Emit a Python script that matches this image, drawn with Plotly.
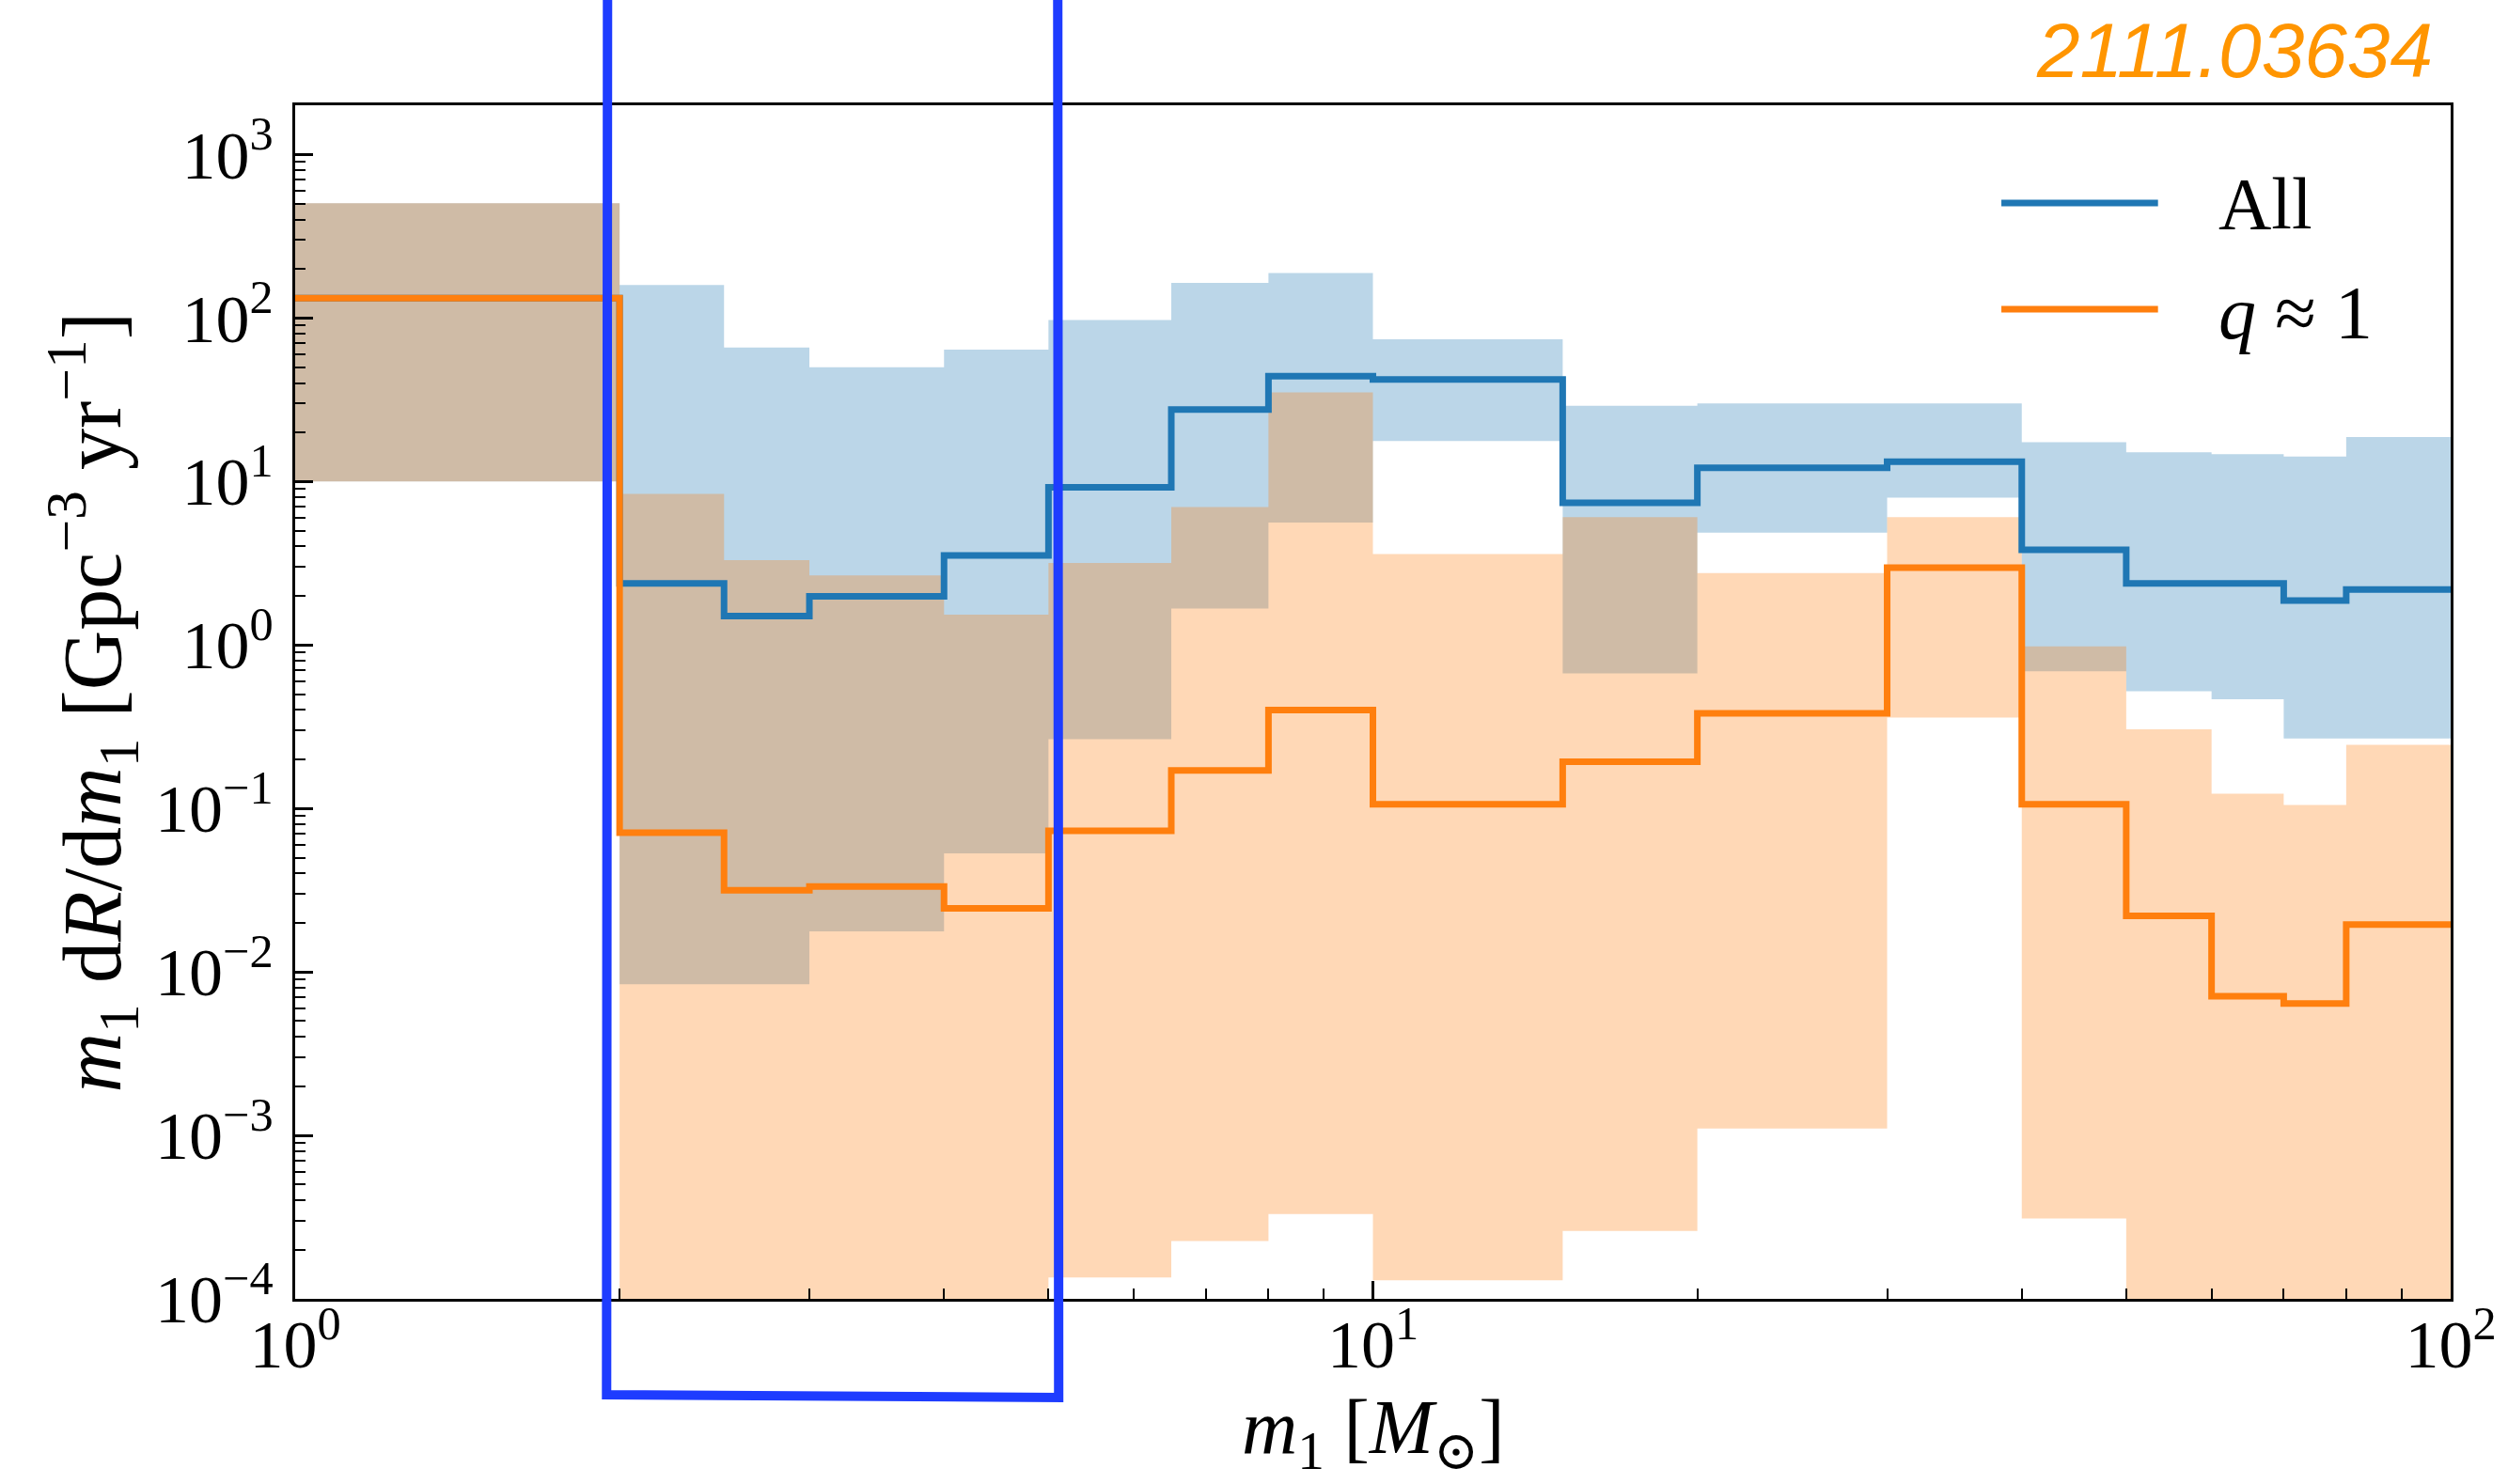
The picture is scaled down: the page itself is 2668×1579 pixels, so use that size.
import numpy as np
import plotly.graph_objects as go

# Primary-mass bin edges [M_sun]
edges = [1, 2, 2.5, 3, 4, 5, 6.5, 8, 10, 15, 20, 30, 40, 50, 60, 70, 80, 100]

# "All" population: median and 90% band per bin [Gpc^-3 yr^-1]
all_med = [132, 2.38, 1.50, 1.98, 3.53, 9.2, 27.5, 44, 42, 7.4, 12.1, 13.2, 3.82, 2.38, 2.38, 1.87, 2.18]
all_hi = [503, 159, 66, 50, 64, 97, 164, 188, 74, 29, 30, 30, 17.4, 15.1, 14.7, 14.2, 18.7]
all_lo = [10, 0.0084, 0.0084, 0.0177, 0.053, 0.265, 1.67, 5.6, 17.7, 0.67, 4.86, 7.96, 0.69, 0.52, 0.465, 0.268, 0.268]

# Equal-mass (q ~ 1) population
eq_med = [132, 0.071, 0.0316, 0.0333, 0.0245, 0.073, 0.171, 0.40, 0.106, 0.193, 0.381, 2.97, 0.106, 0.022, 0.0071, 0.0064, 0.0195]
eq_hi = [503, 8.4, 3.3, 2.66, 1.53, 3.17, 6.98, 35, 3.6, 6.05, 2.75, 6.05, 0.98, 0.305, 0.123, 0.105, 0.245]
eq_lo = [10, 1e-4, 1e-4, 1e-4, 1e-4, 1.35e-4, 2.26e-4, 3.3e-4, 1.3e-4, 2.6e-4, 1.1e-3, 0.36, 3.1e-4, 1e-4, 1e-4, 1e-4, 1e-4]

x_ticks = [1, 10, 100]
x_ticktext = ["10<sup>0</sup>", "10<sup>1</sup>", "10<sup>2</sup>"]
y_ticks = [1e-4, 1e-3, 1e-2, 1e-1, 1, 10, 100, 1000]
y_ticktext = ["10<sup>\u22124</sup>", "10<sup>\u22123</sup>", "10<sup>\u22122</sup>", "10<sup>\u22121</sup>",
              "10<sup>0</sup>", "10<sup>1</sup>", "10<sup>2</sup>", "10<sup>3</sup>"]

BLUE = "#1f77b4"
ORANGE = "#ff7f0e"
BLUE_FILL = "rgba(31,119,180,0.3)"
ORANGE_FILL = "rgba(255,127,14,0.3)"
SERIF = "Liberation Serif, DejaVu Serif, serif"
LINE_W = 7


def step_xy(vals):
    """Turn per-bin values into a post-step outline across the bin edges."""
    xs = np.repeat(np.asarray(edges, float), 2)[1:-1]
    ys = np.repeat(np.asarray(vals, float), 2)
    return xs, ys


fig = go.Figure()


def add_band(lo, hi, color):
    xl, yl = step_xy(lo)
    xh, yh = step_xy(hi)
    fig.add_trace(go.Scatter(x=xl, y=yl, mode="lines", line=dict(width=0),
                             hoverinfo="skip", showlegend=False))
    fig.add_trace(go.Scatter(x=xh, y=yh, mode="lines", line=dict(width=0),
                             fill="tonexty", fillcolor=color,
                             hoverinfo="skip", showlegend=False))


add_band(all_lo, all_hi, BLUE_FILL)
add_band(eq_lo, eq_hi, ORANGE_FILL)

for med, color, name in [(all_med, BLUE, "All"), (eq_med, ORANGE, "q ≈ 1")]:
    xm, ym = step_xy(med)
    fig.add_trace(go.Scatter(x=xm, y=ym, mode="lines", name=name,
                             line=dict(color=color, width=LINE_W), showlegend=False))

W, H = 2668, 1579
L, R, T, B = 314, 56, 112, 197
pw, ph = W - L - R, H - T - B


def px(xpix):
    return (xpix - L) / pw


def py(ypix):
    return (H - B - ypix) / ph


axis_common = dict(
    showline=True, linecolor="black", linewidth=3, mirror=True,
    ticks="inside", ticklen=19, tickwidth=2.5, tickcolor="black",
    showgrid=False, zeroline=False,
    tickfont=dict(family=SERIF, size=72, color="black"),
    minor=dict(ticks="inside", ticklen=11, tickwidth=2, tickcolor="black",
               dtick="D1", showgrid=False),
)

fig.update_xaxes(type="log", range=[0, 2], tickmode="array", tickvals=x_ticks,
                 ticktext=x_ticktext, ticklabelstandoff=-16, **axis_common)
fig.update_yaxes(type="log", range=[-4, np.log10(2000)], tickmode="array",
                 tickvals=y_ticks, ticktext=y_ticktext, ticklabelstandoff=6,
                 **axis_common)

common_anno = dict(xref="paper", yref="paper", showarrow=False, yanchor="middle")
annotations = [
    dict(text="<i>m</i><sub>1</sub> [<i>M</i><sub>\u2299</sub>]", x=0.5, y=py(1524),
         xanchor="center", font=dict(family=SERIF, size=82, color="black"), **common_anno),
    dict(text="<i>m</i><sub>1</sub> d<i>R</i>/d<i>m</i><sub>1</sub> [Gpc<sup>\u22123</sup> yr<sup>\u22121</sup>]",
         x=px(97), y=0.5, xanchor="center", textangle=-90,
         font=dict(family=SERIF, size=88, color="black"), **common_anno),
    dict(text="All", x=px(2362), y=py(217), xanchor="left",
         font=dict(family=SERIF, size=78, color="black"), **common_anno),
    dict(text="<i>q</i> \u2248 1", x=px(2362), y=py(333), xanchor="left",
         font=dict(family=SERIF, size=80, color="black"), **common_anno),
    dict(text="<i>2111.03634</i>", x=px(2595), y=py(54), xanchor="right",
         font=dict(family="Liberation Sans, Arial, sans-serif", size=82, color="#ff9500"),
         **common_anno),
]

shapes = [
    dict(type="line", xref="paper", yref="paper", x0=px(2133), x1=px(2300),
         y0=py(216), y1=py(216), line=dict(color=BLUE, width=LINE_W)),
    dict(type="line", xref="paper", yref="paper", x0=px(2133), x1=px(2300),
         y0=py(329), y1=py(329), line=dict(color=ORANGE, width=LINE_W)),
    # hand-drawn highlight around the low-mass bins
    dict(type="path", xref="paper", yref="paper",
         path=(f"M {px(647)} {py(-20)} L {px(646)} {py(1484)} "
               f"L {px(1128)} {py(1487)} L {px(1127)} {py(-20)}"),
         line=dict(color="#1e3cff", width=10)),
]

fig.update_layout(
    width=W, height=H,
    margin=dict(l=L, r=R, t=T, b=B),
    paper_bgcolor="white", plot_bgcolor="white",
    showlegend=False,
    annotations=annotations, shapes=shapes,
)

fig.write_html("out.html")
